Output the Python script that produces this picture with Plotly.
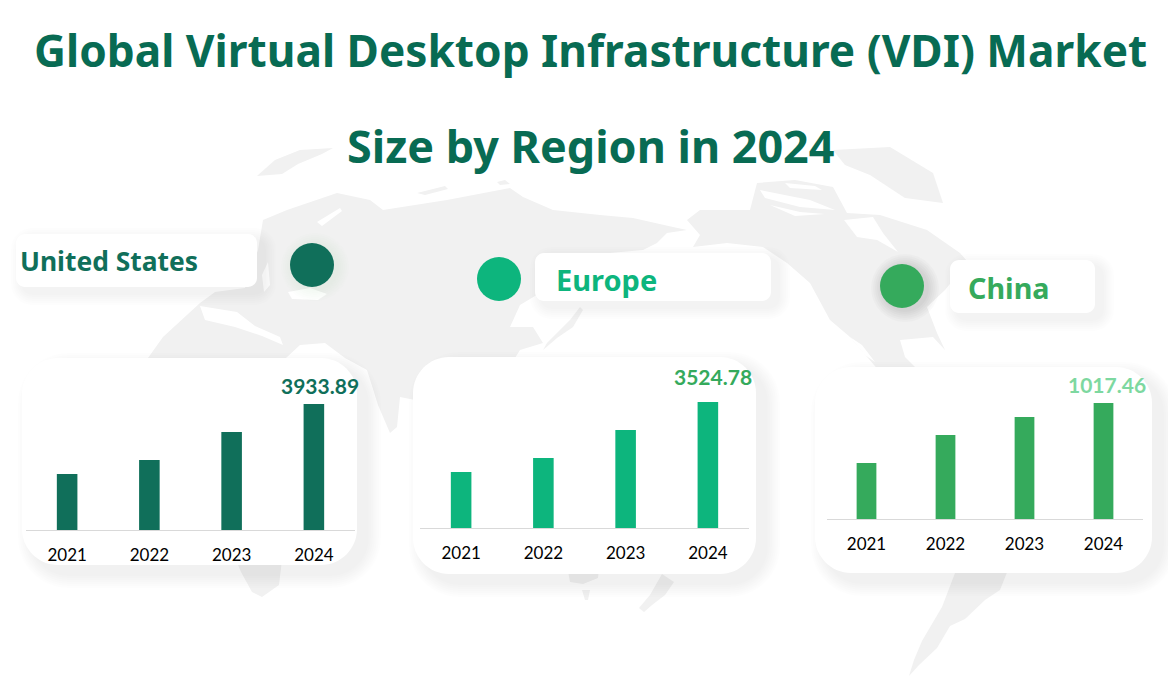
import plotly.graph_objects as go

W, H = 1168, 676

# ---- data ----
YEARS = ["2021", "2022", "2023", "2024"]
US_VALUES = [1748, 2185, 3060, 3933.89]
EUROPE_VALUES = [1567, 1958, 2741, 3524.78]
CHINA_VALUES = [491, 737, 895, 1017.46]
REGIONS = ["United States", "Europe", "China"]
TITLE_1 = "Global Virtual Desktop Infrastructure (VDI) Market"
TITLE_2 = "Size by Region in 2024"

# ---- styles ----
DARK, MID, GREEN = "#106f5a", "#0db57d", "#35aa5c"
TITLE_COL = "#086b53"
LAND = "#f1f1f1"
TITLE_FONT = "Noto Sans"
BODY_FONT = "Lato"


def px(x):
    return x / W


def py(y):
    return 1 - y / H


def poly(points):
    return "M" + " L".join(f"{px(x):.5f},{py(y):.5f}" for x, y in points) + " Z"


def rrect(x0, y0, x1, y1, r):
    k = 0.45 * r
    cmds = [
        (x0 + r, y0, "M"), (x1 - r, y0, "L"),
        (x1 - k, y0, "C"), (x1, y0 + k, ""), (x1, y0 + r, ""),
        (x1, y1 - r, "L"),
        (x1, y1 - k, "C"), (x1 - k, y1, ""), (x1 - r, y1, ""),
        (x0 + r, y1, "L"),
        (x0 + k, y1, "C"), (x0, y1 - k, ""), (x0, y1 - r, ""),
        (x0, y0 + r, "L"),
        (x0, y0 + k, "C"), (x0 + k, y0, ""), (x0 + r, y0, ""),
    ]
    return " ".join(f"{c}{px(x):.5f},{py(y):.5f}" for x, y, c in cmds) + " Z"


shapes = []


def add_path(path, color):
    shapes.append(dict(type="path", xref="paper", yref="paper", path=path,
                       fillcolor=color, line=dict(width=0), layer="below"))


# ---- background world map (decoration, rough outlines) ----
MAP_LAND = [
    # Eurasia + north Africa
    [(148, 358), (163, 337), (200, 303), (215, 292), (245, 288), (258, 250), (263, 220), (287, 210),
     (337, 193), (370, 200), (383, 210), (447, 200), (510, 188), (523, 197), (553, 210), (600, 215),
     (633, 218), (673, 227), (687, 230), (667, 233), (657, 243), (643, 250), (610, 253), (570, 262),
     (545, 290), (520, 305), (510, 327), (533, 327), (543, 343), (520, 350), (515, 358), (505, 400),
     (415, 400), (400, 397), (397, 427), (390, 433), (378, 405), (367, 370), (345, 358), (325, 343),
     (300, 345), (286, 358), (286, 420), (148, 420)],
    # Africa tail
    [(236, 560), (282, 560), (279, 585), (262, 597), (252, 592), (241, 572)],
    # Arctic piece, Svalbard side
    [(257, 176), (275, 160), (300, 150), (333, 148), (322, 154), (298, 164), (282, 174)],
    # Small arctic islands
    [(417, 193), (445, 186), (448, 189), (425, 195)],
    [(497, 182), (505, 180), (510, 184), (500, 185)],
    # Japan
    [(580, 307), (570, 320), (547, 343), (543, 350), (557, 338), (573, 327), (583, 310)],
    # Australia tail, Tasmania, New Zealand
    [(566, 560), (600, 560), (598, 578), (583, 584), (570, 582)],
    [(582, 590), (590, 590), (588, 600), (585, 600)],
    [(662, 574), (674, 582), (665, 595), (652, 605), (644, 612), (639, 608), (650, 595)],
    # North America
    [(687, 220), (700, 210), (750, 210), (757, 183), (795, 180), (833, 187), (847, 213), (880, 215),
     (927, 230), (960, 253), (968, 262), (945, 290), (927, 307), (937, 333), (945, 350), (933, 337),
     (900, 340), (905, 357), (920, 372), (880, 372), (850, 337), (830, 320), (810, 283), (787, 263),
     (763, 247), (727, 243), (693, 247), (700, 235)],
    # Arctic Canada / Greenland
    [(833, 150), (890, 147), (933, 173), (943, 203), (905, 198), (870, 175), (845, 165)],
    # South America
    [(960, 560), (1012, 560), (1000, 590), (985, 600), (965, 619), (950, 626), (937, 648), (919, 665),
     (909, 676), (914, 660), (922, 641), (942, 607)],
]
MAP_WATER = [
    # Baltic side, White Sea, Black Sea, Mediterranean
    [(317, 222), (340, 208), (342, 211), (322, 226)],
    [(262, 275), (268, 262), (270, 285), (264, 292)],
    [(288, 292), (310, 288), (327, 294), (318, 300), (292, 299)],
    [(200, 306), (237, 312), (255, 326), (280, 337), (283, 345), (262, 336), (235, 327), (205, 320)],
    # Hudson Bay, Arctic channels, Gulf of California
    [(844, 220), (873, 217), (883, 233), (898, 252), (877, 240), (857, 237)],
    [(760, 190), (810, 200), (835, 210), (800, 207), (765, 198)],
    [(785, 183), (815, 186), (822, 190), (790, 188)],
    [(770, 205), (800, 212), (825, 214), (795, 216)],
    [(850, 337), (862, 345), (875, 362), (865, 355)],
]
for land in MAP_LAND:
    add_path(poly(land), LAND)
for water in MAP_WATER:
    add_path(poly(water), "#ffffff")


# ---- soft-shadowed white boxes ----
def soft_box(x0, y0, x1, y1, r, dx=10, dy=9, spread=14, alpha=0.009):
    for e in range(spread, 0, -2):
        add_path(rrect(x0 + dx - e, y0 + dy - e, x1 + dx + e, y1 + dy + e, r + e),
                 f"rgba(0,0,0,{alpha})")
    add_path(rrect(x0, y0, x1, y1, r), "#ffffff")


soft_box(22, 358, 357, 565, 36)
soft_box(413, 357, 756, 574, 36)
soft_box(815, 367, 1152, 573, 36)
soft_box(16, 234, 257, 287, 9, dx=7, dy=6, spread=12, alpha=0.008)
soft_box(535, 253, 771, 301, 9, dx=7, dy=6, spread=12, alpha=0.008)
soft_box(950, 260, 1095, 313, 9, dx=7, dy=6, spread=12, alpha=0.008)


# ---- region dots ----
def dot(cx, cy, r, color, shadow):
    for e in range(12, 0, -2):
        shapes.append(dict(type="circle", xref="paper", yref="paper",
                           x0=px(cx + 3 - r - e), x1=px(cx + 3 + r + e),
                           y0=py(cy + 2 + r + e), y1=py(cy + 2 - r - e),
                           fillcolor=shadow, line=dict(width=0), layer="below"))
    shapes.append(dict(type="circle", xref="paper", yref="paper",
                       x0=px(cx - r), x1=px(cx + r), y0=py(cy + r), y1=py(cy - r),
                       fillcolor=color, line=dict(width=0), layer="below"))


dot(312, 265, 22, DARK, "rgba(60,170,110,0.012)")
dot(499, 279, 22, MID, "rgba(0,0,0,0.0)")
dot(902, 286, 22, GREEN, "rgba(0,0,0,0.018)")

# ---- bar panels ----
PANELS = [
    dict(values=US_VALUES, color=DARK, left=26, right=355, base=530, top=380, unit=3933.89 / 126,
         label="3933.89", label_col=DARK, xshift=6, yshift=19),
    dict(values=EUROPE_VALUES, color=MID, left=420, right=749, base=528, top=378, unit=3524.78 / 126,
         label="3524.78", label_col=GREEN, xshift=5, yshift=26),
    dict(values=CHINA_VALUES, color=GREEN, left=827, right=1143, base=519, top=375, unit=1017.46 / 116,
         label="1017.46", label_col="#7dd8a0", xshift=3, yshift=19),
]

fig = go.Figure()
layout_axes = {}
annotations = []
for i, p in enumerate(PANELS, start=1):
    xname, yname = ("x", "y") if i == 1 else (f"x{i}", f"y{i}")
    fig.add_trace(go.Bar(x=YEARS, y=p["values"], marker=dict(color=p["color"], line=dict(width=0)),
                         width=0.25, xaxis=xname, yaxis=yname, showlegend=False, name=REGIONS[i - 1]))
    suffix = "" if i == 1 else str(i)
    layout_axes[f"xaxis{suffix}"] = dict(
        domain=[px(p["left"]), px(p["right"])], anchor=yname, type="category",
        range=[-0.5, len(YEARS) - 0.5],
        showgrid=False, zeroline=False, showline=True, linecolor="#d9d9d9", linewidth=1,
        ticks="outside", ticklen=10, tickcolor="rgba(0,0,0,0)",
        tickfont=dict(family=BODY_FONT, size=17, color="#000000"), fixedrange=True)
    layout_axes[f"yaxis{suffix}"] = dict(
        domain=[py(p["base"]), py(p["top"])], anchor=xname, visible=False,
        range=[0, (p["base"] - p["top"]) * p["unit"]], fixedrange=True)
    annotations.append(dict(x=len(YEARS) - 1, y=p["values"][-1], xref=xname, yref=yname, text=p["label"],
                            showarrow=False, xanchor="center", yanchor="middle",
                            xshift=p["xshift"], yshift=p["yshift"],
                            font=dict(family=BODY_FONT, size=21, color=p["label_col"], weight="bold")))


def page_text(text, cx, cy, size, color, family, anchor="center"):
    annotations.append(dict(text=text, x=px(cx), y=py(cy), xref="paper", yref="paper", showarrow=False,
                            xanchor=anchor, yanchor="middle",
                            font=dict(family=family, size=size, color=color, weight="bold")))


page_text(TITLE_1, 590.5, 50, 44.2, TITLE_COL, TITLE_FONT)
page_text(TITLE_2, 590.5, 145, 44.9, TITLE_COL, TITLE_FONT)
page_text(REGIONS[0], 18, 261, 26.4, DARK, TITLE_FONT, "left")
page_text(REGIONS[1], 554, 279, 29, MID, TITLE_FONT, "left")
page_text(REGIONS[2], 966, 288, 28.7, GREEN, TITLE_FONT, "left")

fig.update_layout(width=W, height=H, margin=dict(l=0, r=0, t=0, b=0), paper_bgcolor="#ffffff",
                  plot_bgcolor="rgba(0,0,0,0)", shapes=shapes, annotations=annotations,
                  showlegend=False, **layout_axes)

fig.write_html("out.html", config=dict(displayModeBar=False),
               post_script="document.body.style.margin='0';document.body.style.overflow='hidden';")
